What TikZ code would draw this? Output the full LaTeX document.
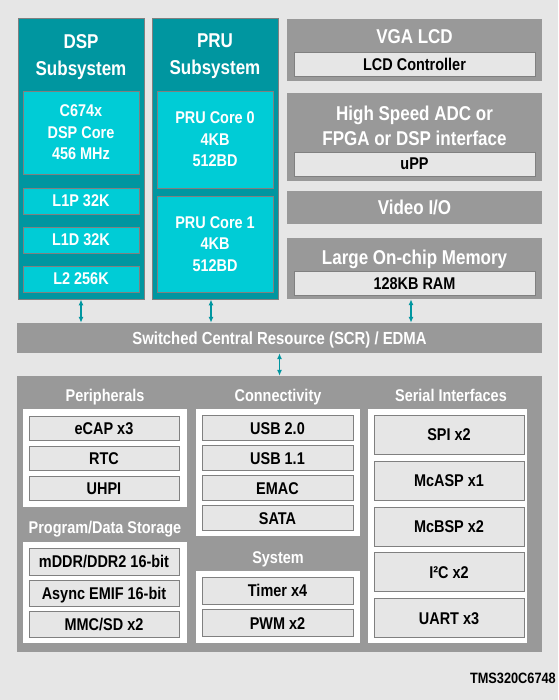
\documentclass[tikz,border=0pt]{standalone}
\usepackage{fontspec}
\setmainfont{Liberation Sans}[FakeStretch=0.85]
\usepackage{tikz}
\usetikzlibrary{arrows.meta}
\definecolor{bggray}{HTML}{E6E6E6}
\definecolor{subteal}{HTML}{0096A0}
\definecolor{corecyan}{HTML}{00CCD6}
\definecolor{blkgray}{HTML}{999999}
\definecolor{edgegray}{HTML}{808080}
\tikzset{
	sub/.style={shape=rectangle, draw=edgegray, fill=subteal, line width=0.8pt, inner sep=0pt},
	core/.style={shape=rectangle, draw=edgegray, fill=corecyan, line width=0.8pt, inner sep=0pt, text=white, align=center, font=\fontsize{17}{21.5}\selectfont\bfseries},
	grp/.style={shape=rectangle, fill=blkgray, inner sep=0pt},
	panel/.style={shape=rectangle, fill=white, inner sep=0pt},
	item/.style={shape=rectangle, draw=edgegray, fill=bggray, line width=0.8pt, inner sep=0pt, text height=12pt, text depth=0pt, font=\fontsize{17}{20}\selectfont\bfseries},
	ttl/.style={inner sep=0pt, text=white, text height=14pt, text depth=0pt, font=\fontsize{20}{26}\selectfont\bfseries},
	ttlm/.style={inner sep=0pt, text=white, align=center, font=\fontsize{20}{27}\selectfont\bfseries},
	hdr/.style={inner sep=0pt, text=white, text height=12pt, text depth=0pt, font=\fontsize{17}{20}\selectfont\bfseries},
	bus/.style={draw=subteal, line width=1.5pt, {Latex[length=6pt,width=5pt]}-{Latex[length=6pt,width=5pt]}}
}
\begin{document}
\begin{tikzpicture}[x=1pt, y=-1pt]
	% Background:
	\fill[bggray] (0,0) rectangle (558,700);
	% DSP and PRU subsystems:
	\node[sub, minimum width=126pt, minimum height=281pt](DSP) at (81, 158.5){};
	\node[ttlm](DSPt) at (81, 56.6){DSP\\Subsystem};
	\node[core, minimum width=116pt, minimum height=83pt](C674) at (81, 132.5){C674x\\DSP Core\\456 MHz};
	\node[core, minimum width=116pt, minimum height=26pt](L1P) at (81, 201){L1P 32K};
	\node[core, minimum width=116pt, minimum height=26pt](L1D) at (81, 240){L1D 32K};
	\node[core, minimum width=116pt, minimum height=26pt](L2) at (81, 279){L2 256K};
	\node[sub, minimum width=126pt, minimum height=281pt](PRU) at (215, 158.5){};
	\node[ttlm](PRUt) at (215, 56.6){PRU\\Subsystem};
	\node[core, minimum width=116pt, minimum height=97pt](PRU0) at (215, 139.5){PRU Core 0\\4KB\\512BD};
	\node[core, minimum width=116pt, minimum height=96pt](PRU1) at (215, 244){PRU Core 1\\4KB\\512BD};
	% Right column:
	\node[grp, minimum width=255pt, minimum height=62pt](VGA) at (414.5, 50){};
	\node[ttl](VGAt) at (414.5, 37){VGA LCD};
	\node[item, minimum width=241pt, minimum height=24pt](LCDC) at (414.5, 64.5){LCD Controller};
	\node[grp, minimum width=255pt, minimum height=88pt](HSI) at (414.5, 137){};
	\node[ttlm, font=\fontsize{20}{25}\selectfont\bfseries](HSIt) at (414.5, 125.6){High Speed ADC or\\FPGA or DSP interface};
	\node[item, minimum width=241pt, minimum height=24pt](UPP) at (414.5, 164){uPP};
	\node[grp, ttl, minimum width=255pt, minimum height=33pt](VIO) at (414.5, 207.5){Video I/O};
	\node[grp, minimum width=255pt, minimum height=61pt](MEM) at (414.5, 268.5){};
	\node[ttl](MEMt) at (414.5, 257){Large On-chip Memory};
	\node[item, minimum width=241pt, minimum height=24pt](RAM) at (414.5, 283.5){128KB RAM};
	% Switched central resource and links:
	\node[grp, hdr, font=\fontsize{17.5}{20}\selectfont\bfseries, minimum width=525pt, minimum height=30pt](SCR) at (279.5, 338){Switched Central Resource (SCR) / EDMA};
	\node[grp, minimum width=525pt, minimum height=276pt](BOT) at (279.5, 514){};
	\coordinate (PRUb) at ([xshift=-4pt]PRU.south);
	\coordinate (MEMb) at ([xshift=-3.5pt]MEM.south);
	\draw[bus] (DSP.south) -- (DSP.south |- SCR.north);
	\draw[bus] (PRUb) -- (PRUb |- SCR.north);
	\draw[bus] (MEMb) -- (MEMb |- SCR.north);
	\draw[bus] (SCR.south) -- (SCR.south |- BOT.north);
	% Peripherals and storage:
	\node[hdr](PERt) at (105, 395){Peripherals};
	\node[panel, minimum width=164pt, minimum height=98pt](PERp) at (105, 458){};
	\node[item, minimum width=150pt, minimum height=24pt](ECAP) at (104, 428){eCAP x3};
	\node[item, minimum width=150pt, minimum height=24pt](RTC) at (104, 458){RTC};
	\node[item, minimum width=150pt, minimum height=24pt](UHPI) at (104, 488){UHPI};
	\node[hdr](STOt) at (105, 527){Program/Data Storage};
	\node[panel, minimum width=164pt, minimum height=101pt](STOp) at (105, 592.5){};
	\node[item, minimum width=150pt, minimum height=27pt](DDR) at (104, 561.5){mDDR/DDR2 16-bit};
	\node[item, minimum width=150pt, minimum height=26pt](EMIF) at (104, 593){Async EMIF 16-bit};
	\node[item, minimum width=150pt, minimum height=26pt](MMC) at (104, 624){MMC/SD x2};
	% Connectivity and system:
	\node[hdr](CONt) at (278, 395){Connectivity};
	\node[panel, minimum width=164pt, minimum height=127pt](CONp) at (278, 472.5){};
	\node[item, minimum width=151pt, minimum height=25pt](USB2) at (277.5, 428){USB 2.0};
	\node[item, minimum width=151pt, minimum height=25pt](USB1) at (277.5, 458){USB 1.1};
	\node[item, minimum width=151pt, minimum height=25pt](EMAC) at (277.5, 488){EMAC};
	\node[item, minimum width=151pt, minimum height=25pt](SATA) at (277.5, 518){SATA};
	\node[hdr](SYSt) at (278, 557){System};
	\node[panel, minimum width=164pt, minimum height=72pt](SYSp) at (278, 607){};
	\node[item, minimum width=151pt, minimum height=27pt](TIM) at (277.5, 590.5){Timer x4};
	\node[item, minimum width=151pt, minimum height=27pt](PWM) at (277.5, 623){PWM x2};
	% Serial interfaces:
	\node[hdr](SERt) at (451, 395){Serial Interfaces};
	\node[panel, minimum width=159pt, minimum height=234pt](SERp) at (447.5, 526){};
	\node[item, minimum width=150pt, minimum height=39pt](SPI) at (449, 434.5){SPI x2};
	\node[item, minimum width=150pt, minimum height=39pt](MCASP) at (449, 480.5){McASP x1};
	\node[item, minimum width=150pt, minimum height=39pt](MCBSP) at (449, 526.5){McBSP x2};
	\node[item, minimum width=150pt, minimum height=39pt](I2C) at (449, 572){I²C x2};
	\node[item, minimum width=150pt, minimum height=39pt](UART) at (449, 618){UART x3};
	% Part number:
	\node[anchor=east, inner sep=0pt, text height=10.5pt, text depth=0pt, font=\fontsize{15}{18}\selectfont\bfseries](PART) at (556, 678){TMS320C6748};
\end{tikzpicture}
\end{document}
